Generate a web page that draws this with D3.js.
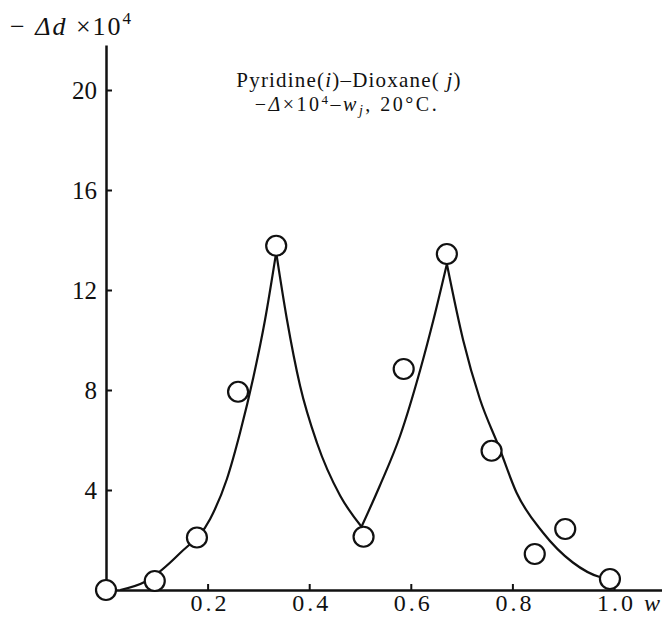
<!DOCTYPE html>
<html lang="en">
<head>
<meta charset="utf-8">
<title>Pyridine-Dioxane</title>
<script src="https://cdn.jsdelivr.net/npm/d3@7"></script>
<style>
  html, body { margin: 0; padding: 0; background: #fff; }
  svg { display: block; font-family: "Liberation Serif", "DejaVu Serif", serif; }
</style>
</head>
<body>
<script>
// measured points (w_j, -delta x 10^4)
const pointsW = [0.0, 0.096, 0.179, 0.26, 0.335, 0.507, 0.586, 0.671, 0.759, 0.844, 0.904, 0.992];
const pointsD = [0.0, 0.36, 2.1, 7.93, 13.77, 2.13, 8.84, 13.44, 5.57, 1.44, 2.44, 0.44];

// hand drawn curve, four branches meeting in cusps
const branch1 = [[0.028, 0.0], [0.077, 0.33], [0.146, 1.48], [0.205, 2.84], [0.238, 4.44], [0.264, 6.3], [0.29, 8.5], [0.313, 10.8], [0.335, 13.5]];
const branch2 = [[0.335, 13.5], [0.356, 10.84], [0.382, 8.17], [0.415, 5.9], [0.461, 3.77], [0.503, 2.53]];
const branch3 = [[0.503, 2.53], [0.539, 4.17], [0.579, 6.17], [0.619, 8.84], [0.645, 10.84], [0.671, 13.04]];
const branch4 = [[0.671, 13.04], [0.703, 10.0], [0.736, 7.64], [0.774, 5.7], [0.808, 3.9], [0.86, 2.3], [0.919, 1.1], [0.972, 0.52], [0.99, 0.45]];

const yTicks = [4, 8, 12, 16, 20];
const xTicks = [0.2, 0.4, 0.6, 0.8, 1.0];

const w = 662, h = 617;

const svg = d3.select("body").append("svg")
  .attr("width", w)
  .attr("height", h);

const xScale = d3.scaleLinear().domain([0, 1.1]).range([106, 106 + 1.1 * 508]);
const yScale = d3.scaleLinear().domain([0, 21.8]).range([590, 45]);

// axes
const yAxis = d3.axisLeft(yScale)
  .tickValues(yTicks)
  .tickSizeInner(-6)
  .tickSizeOuter(0)
  .tickPadding(9)
  .tickFormat(d3.format("d"));

const xAxis = d3.axisBottom(xScale)
  .tickValues(xTicks)
  .tickSizeInner(-6)
  .tickSizeOuter(0)
  .tickPadding(4)
  .tickFormat(d3.format(".1f"));

const gy = svg.append("g")
  .attr("transform", "translate(" + xScale(0) + ",0)")
  .call(yAxis);

const gx = svg.append("g")
  .attr("transform", "translate(0," + yScale(0) + ")")
  .call(xAxis);

[gx, gy].forEach(g => {
  g.select(".domain").attr("stroke", "#111").attr("stroke-width", 2.5);
  g.selectAll(".tick line").attr("stroke", "#111").attr("stroke-width", 2);
  g.selectAll(".tick text")
    .attr("fill", "#111")
    .attr("font-family", "Liberation Serif, DejaVu Serif, serif")
    .attr("font-size", 25);
});
gx.selectAll(".tick text")
  .attr("font-size", 24)
  .attr("dx", 2)
  .style("letter-spacing", "3px");

// curve
const line = d3.line()
  .x(d => xScale(d[0]))
  .y(d => yScale(d[1]))
  .curve(d3.curveMonotoneX);

svg.selectAll("path.curve")
  .data([branch1, branch2, branch3, branch4])
  .enter()
  .append("path")
  .attr("class", "curve")
  .attr("d", line)
  .attr("fill", "none")
  .attr("stroke", "#111")
  .attr("stroke-width", 2.2);

// circles
svg.selectAll("circle")
  .data(pointsW.map((x, i) => [x, pointsD[i]]))
  .enter()
  .append("circle")
  .attr("cx", d => xScale(d[0]))
  .attr("cy", d => yScale(d[1]))
  .attr("r", 10)
  .attr("fill", "#fff")
  .attr("stroke", "#111")
  .attr("stroke-width", 2.2);

// y axis label
const yl = svg.append("text")
  .attr("x", 10)
  .attr("y", 35)
  .attr("font-size", 26)
  .style("letter-spacing", "2px")
  .attr("fill", "#111");
yl.append("tspan").text("\u2212 ");
yl.append("tspan").attr("font-style", "italic").text("\u0394d");
yl.append("tspan").text(" \u00d710");
yl.append("tspan").attr("font-size", 17).attr("dy", -11).text("4");

// x axis label
svg.append("text")
  .attr("x", 644)
  .attr("y", 611)
  .attr("font-size", 24)
  .attr("font-style", "italic")
  .attr("fill", "#111")
  .text("w");

// title
const t1 = svg.append("text")
  .attr("x", 349)
  .attr("y", 87)
  .attr("text-anchor", "middle")
  .attr("font-size", 21)
  .style("letter-spacing", "1.2px")
  .attr("fill", "#111");
t1.append("tspan").text("Pyridine(");
t1.append("tspan").attr("font-style", "italic").text("i");
t1.append("tspan").text(")\u2013Dioxane(");
t1.append("tspan").attr("font-style", "italic").text(" j");
t1.append("tspan").text(")");

const t2 = svg.append("text")
  .attr("x", 347)
  .attr("y", 111)
  .attr("text-anchor", "middle")
  .attr("font-size", 20)
  .style("letter-spacing", "2.5px")
  .attr("fill", "#111");
t2.append("tspan").text("\u2212");
t2.append("tspan").attr("font-style", "italic").text("\u0394");
t2.append("tspan").text("\u00d710");
t2.append("tspan").attr("font-size", 13).attr("dy", -7).text("4");
t2.append("tspan").attr("dy", 7).text("\u2013");
t2.append("tspan").attr("font-style", "italic").text("w");
t2.append("tspan").attr("font-style", "italic").attr("font-size", 14).attr("dy", 4).text("j");
t2.append("tspan").attr("dy", -4).text(",  20\u00b0C.");
</script>
</body>
</html>
